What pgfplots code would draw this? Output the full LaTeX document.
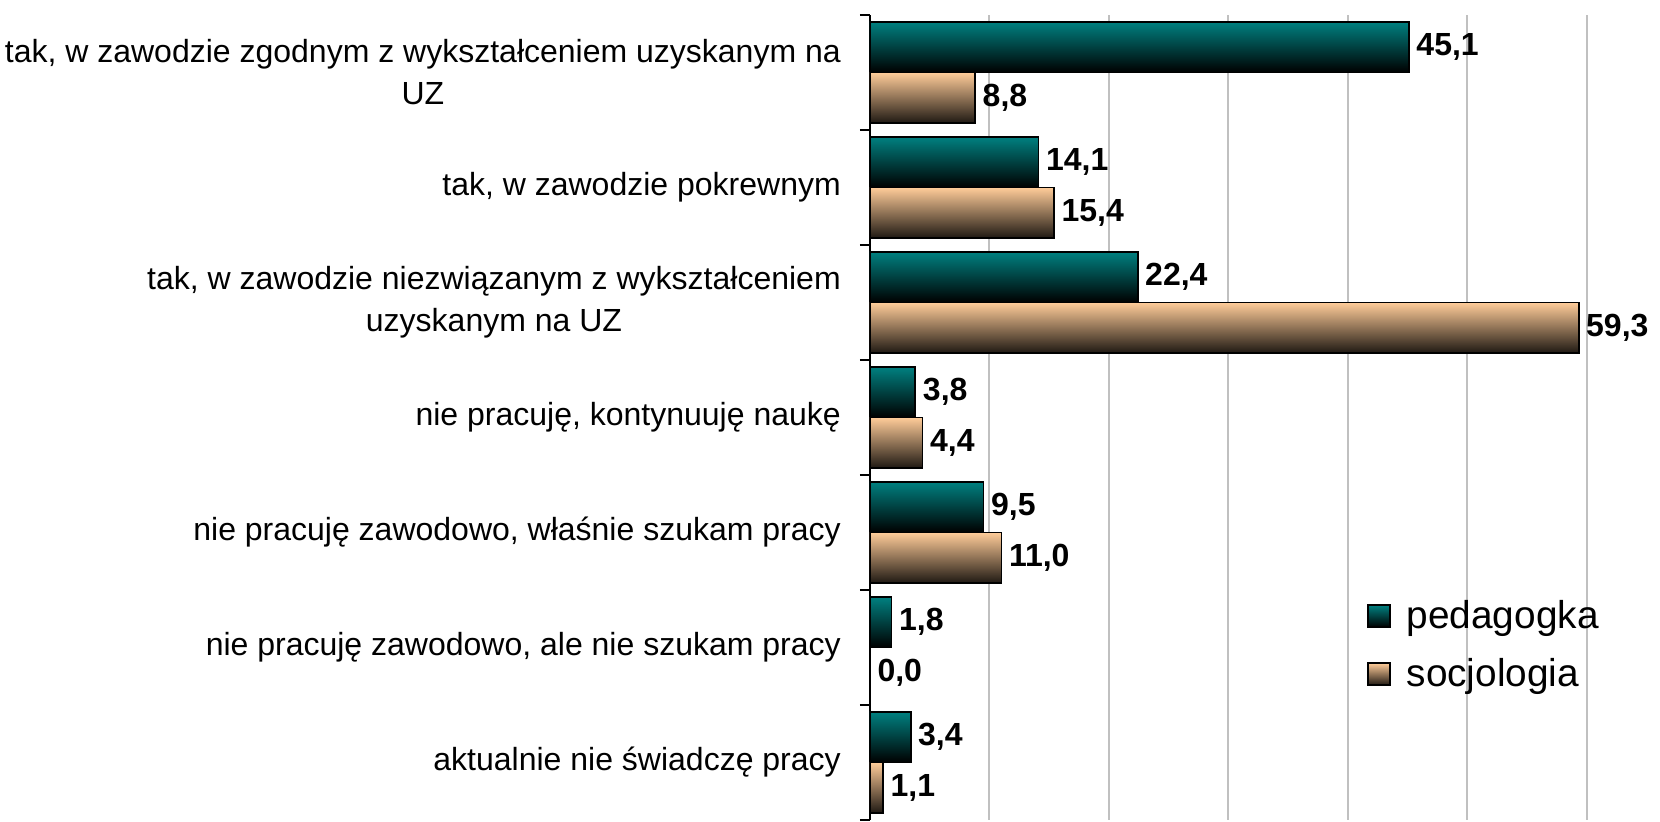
\documentclass[border=0pt]{standalone}
\usepackage{pgfplots}
\pgfplotsset{compat=1.18}
\usepackage{fontspec}
\setmainfont{Liberation Sans}

\definecolor{tealbar}{HTML}{008080}
\definecolor{peachbar}{HTML}{FFCC99}
\definecolor{gridgray}{HTML}{C0C0C0}

% each bar is its own plot, so that the gradient runs over one bar only
\pgfplotsset{
    squarelegend/.style={
        legend image code/.code={
            \draw[##1] (0pt,-5.5pt) rectangle (11pt,5.5pt);
            \path (17pt,0pt);
        }
    },
    pedbar/.style={
        draw=black, line width=0.9pt,
        top color=tealbar, middle color=tealbar!65!black, bottom color=black,
        bar shift=0.22, squarelegend
    },
    socbar/.style={
        draw=black, line width=0.9pt,
        top color=peachbar, middle color=peachbar!62!black, bottom color=black!88!peachbar,
        bar shift=-0.22, squarelegend
    },
}

\begin{document}
\begin{tikzpicture}
\begin{axis}[
    name=ax,
    scale only axis,
    width=358.5pt,
    height=402.5pt,
    xmin=0, xmax=60,
    ymin=-0.5, ymax=6.5,
    axis x line*=bottom,
    axis y line*=left,
    axis line style={-},
    x axis line style={draw=none},
    y axis line style={black, line width=1.2pt},
    xtick={10,20,...,60},
    xticklabel=\empty,
    major x tick style={draw=none},
    xmajorgrids,
    grid style={gridgray, line width=1pt},
    ytick={0,...,6},
    yticklabels={
        aktualnie nie świadczę pracy,
        nie pracuję zawodowo{,} ale nie szukam pracy,
        nie pracuję zawodowo{,} właśnie szukam pracy,
        nie pracuję{,} kontynuuję naukę,
        {tak, w zawodzie niezwiązanym z wykształceniem\\uzyskanym na UZ},
        tak{,} w zawodzie pokrewnym,
        {tak, w zawodzie zgodnym z wykształceniem uzyskanym na\\UZ}
    },
    major y tick style={draw=none},
    minor ytick={-0.5,0.5,...,6.5},
    minor tick length=5pt,
    minor y tick style={black, line width=1.2pt},
    tick align=outside,
    ytick pos=left,
    yticklabel style={font=\fontsize{16}{21}\selectfont, align=center, xshift=-6.8pt},
    xbar,
    bar width=0.44,
    nodes near coords={\pgfmathprintnumber[fixed,fixed zerofill,precision=1,use comma,assume math mode=true]{\pgfplotspointmeta}},
    nodes near coords style={font=\fontsize{16}{19}\selectfont\bfseries, black},
    legend style={at={(0.684,0.283)}, anchor=north west, draw=none, fill=none,
        font=\fontsize{19.4}{22}\selectfont, row sep=9.5pt},
    legend cell align=left,
]

% pedagogka
\addplot[pedbar] coordinates {(45.1,6)};
\addlegendentry{pedagogka}
\addplot[pedbar, forget plot] coordinates {(14.1,5)};
\addplot[pedbar, forget plot] coordinates {(22.4,4)};
\addplot[pedbar, forget plot] coordinates {(3.8,3)};
\addplot[pedbar, forget plot] coordinates {(9.5,2)};
\addplot[pedbar, forget plot] coordinates {(1.8,1)};
\addplot[pedbar, forget plot] coordinates {(3.4,0)};

% socjologia
\addplot[socbar] coordinates {(8.8,6)};
\addlegendentry{socjologia}
\addplot[socbar, forget plot] coordinates {(15.4,5)};
\addplot[socbar, forget plot] coordinates {(59.3,4)};
\addplot[socbar, forget plot] coordinates {(4.4,3)};
\addplot[socbar, forget plot] coordinates {(11.0,2)};
\addplot[socbar, forget plot] coordinates {(0.0,1)};
\addplot[socbar, forget plot] coordinates {(1.1,0)};

\end{axis}
\pgfresetboundingbox
\path[use as bounding box] (ax.south west) ++(-435pt,-1pt) rectangle ++(830pt,411pt);
\end{tikzpicture}
\end{document}
